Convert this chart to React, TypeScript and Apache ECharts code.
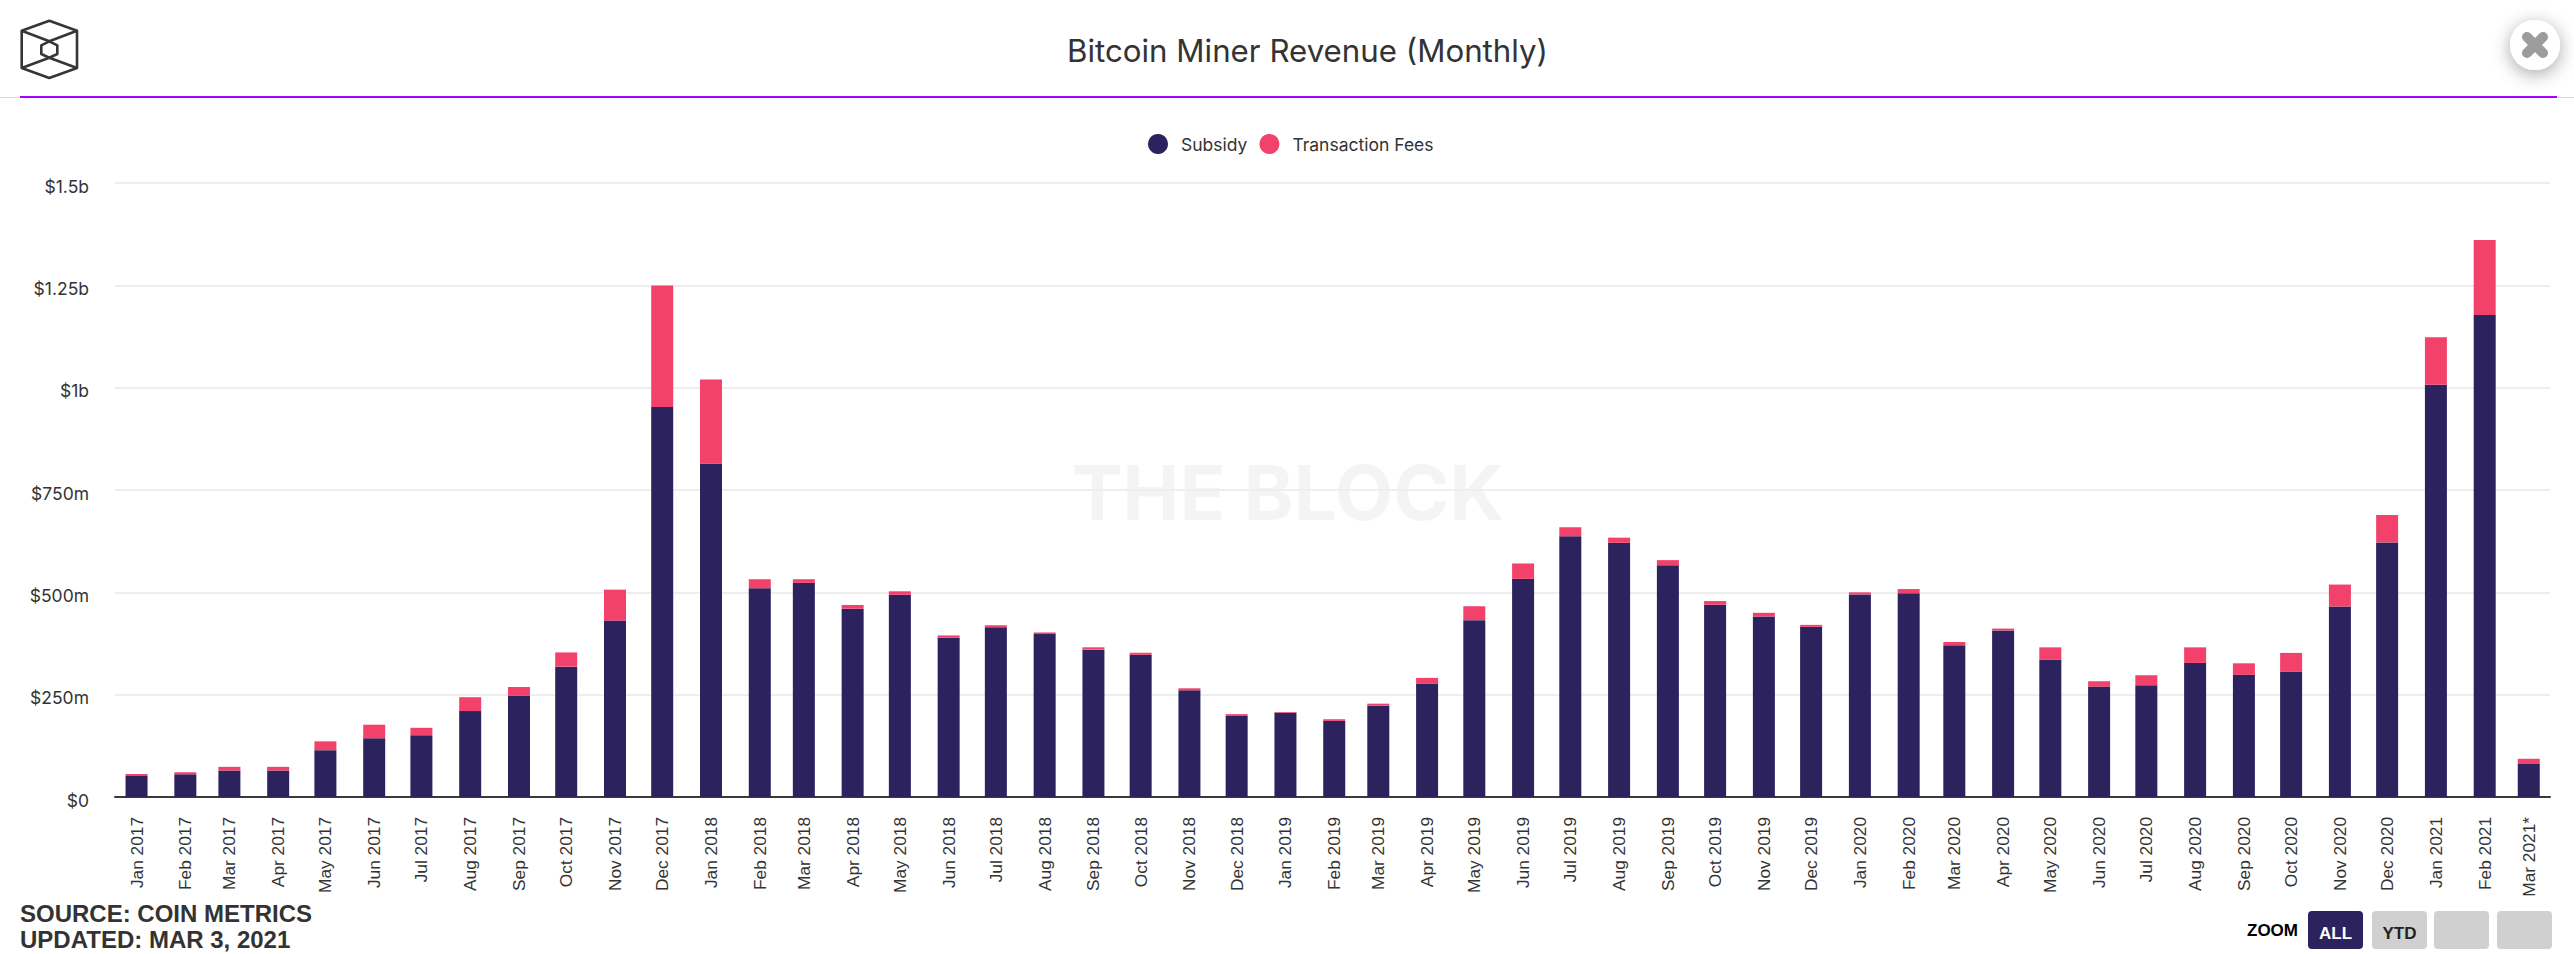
import React, { useEffect, useRef } from "react";
import * as echarts from "echarts";

const months = [
  "Jan 2017","Feb 2017","Mar 2017","Apr 2017","May 2017","Jun 2017","Jul 2017","Aug 2017","Sep 2017","Oct 2017","Nov 2017","Dec 2017",
  "Jan 2018","Feb 2018","Mar 2018","Apr 2018","May 2018","Jun 2018","Jul 2018","Aug 2018","Sep 2018","Oct 2018","Nov 2018","Dec 2018",
  "Jan 2019","Feb 2019","Mar 2019","Apr 2019","May 2019","Jun 2019","Jul 2019","Aug 2019","Sep 2019","Oct 2019","Nov 2019","Dec 2019",
  "Jan 2020","Feb 2020","Mar 2020","Apr 2020","May 2020","Jun 2020","Jul 2020","Aug 2020","Sep 2020","Oct 2020","Nov 2020","Dec 2020",
  "Jan 2021","Feb 2021","Mar 2021*",
];
const subsidy = [
  51,55.5,64.7,64.7,114.4,143.4,151,209.8,248,318.4,431,952.7,
  815,510,523,460,494,389,414.6,398,360,347.4,260.6,198,
  205.7,186,223,277,432,533,637,621,566,469.7,441,415.6,
  495,498,370.5,407,336,269.7,273,327.5,298.4,305.7,465.4,622,
  1007,1177.5,80.7,
];
const fees = [
  5,5,9,9,21.6,33.2,18,34,20.7,34.8,75.6,296.9,
  205,22,9,9,8.5,5.7,5,4,5.7,5,5,4.5,
  1.7,4,5,14,34,37.5,22,12.6,12.7,9,9,4.9,
  5,10,8.2,4.5,29.6,13.1,24.5,38.1,28.2,46.3,53.6,67,
  116,183.1,12.7,
];
const yTickLabels: Record<number, string> = { 0: "$0", 250: "$250m", 500: "$500m", 750: "$750m", 1000: "$1b", 1250: "$1.25b", 1500: "$1.5b" };

const MON = ["Jan","Feb","Mar","Apr","May","Jun","Jul","Aug","Sep","Oct","Nov","Dec"];
const stamp = (m: string) => Date.UTC(parseInt(m.slice(4, 8), 10), MON.indexOf(m.slice(0, 3)), 1);
const stamps = months.map(stamp);
const DAY = 86400000;
const labelByStamp = new Map(stamps.map((t, i) => [t, months[i]]));

const NAVY = "#2b225e";
const PINK = "#f2426b";
const UI = "Inter, 'Noto Sans', sans-serif";
const ARIAL = "'Liberation Sans', Arial, sans-serif";

const line = (x1: number, y1: number, x2: number, y2: number, stroke: string, lineWidth: number, lineCap = "butt", z = 10) => ({
  type: "line", shape: { x1, y1, x2, y2 }, style: { stroke, lineWidth, lineCap }, z, silent: true,
});
const logoStroke = { stroke: "#363636", lineWidth: 2.6, fill: "none", lineJoin: "round" };
const poly = (points: number[][], closed = false) => ({
  type: closed ? "polygon" : "polyline", shape: { points }, style: logoStroke, z: 10, silent: true,
});
const btn = (x: number, w: number, fill: string) => ({
  type: "rect", shape: { x, y: 911, width: w, height: 38, r: 4 }, style: { fill }, z: 10, silent: true,
});
const txt = (x: number, y: number, text: string, font: string, fill: string, align = "left", z = 10) => ({
  type: "text", x, y, z, silent: true, style: { text, font, fill, align, verticalAlign: "middle" },
});

export default function App() {
  const ref = useRef<HTMLDivElement>(null);
  useEffect(() => {
    document.body.style.margin = "0";
    document.body.style.overflow = "hidden";
    const chart = echarts.init(ref.current!, null, { renderer: "svg" });
    chart.setOption({
      animation: false,
      useUTC: true,
      backgroundColor: "#ffffff",
      title: {
        text: "Bitcoin Miner Revenue (Monthly)",
        left: 1067,
        top: 35,
        padding: 0,
        textStyle: { fontFamily: UI, fontSize: 31.25, fontWeight: 400, color: "#333333" },
      },
      legend: {
        left: 1148,
        top: 134,
        padding: 0,
        itemWidth: 20,
        itemHeight: 20,
        itemGap: 12,
        icon: "circle",
        selectedMode: false,
        data: ["Subsidy", "Transaction Fees"],
        textStyle: { fontFamily: UI, fontSize: 17.5, color: "#333333", padding: [4, 0, 0, 8] },
      },
      grid: { left: 115, right: 24, top: 183, bottom: 157 },
      xAxis: {
        type: "time",
        min: stamps[0] - 6.7 * DAY,
        max: stamps[stamps.length - 1] + 6.5 * DAY,
        minInterval: 28 * DAY,
        maxInterval: 31 * DAY,
        splitNumber: 51,
        axisLine: { show: true, lineStyle: { color: "#3a3a3a", width: 2 } },
        axisTick: { show: false },
        splitLine: { show: false },
        axisLabel: {
          rotate: 90,
          margin: 20,
          hideOverlap: false,
          fontFamily: ARIAL,
          fontSize: 17.3,
          fontWeight: 400,
          color: "#333333",
          formatter: (v: number) => labelByStamp.get(v) ?? "",
        },
      },
      yAxis: {
        type: "value",
        min: 0,
        max: 1500,
        interval: 250,
        axisLine: { show: false },
        axisTick: { show: false },
        splitLine: { show: true, lineStyle: { color: "#eeeeee", width: 2 } },
        axisLabel: {
          margin: 26,
          fontFamily: UI,
          fontSize: 17.5,
          color: "#333333",
          verticalAlign: "top",
          lineHeight: 6,
          formatter: (v: number) => yTickLabels[v] ?? "",
        },
      },
      series: [
        { name: "Subsidy", type: "bar", stack: "rev", barWidth: 22, itemStyle: { color: NAVY },
          data: stamps.map((t, i) => [t, subsidy[i]]) },
        { name: "Transaction Fees", type: "bar", stack: "rev", barWidth: 22, itemStyle: { color: PINK },
          data: stamps.map((t, i) => [t, fees[i]]) },
      ],
      graphic: [
        // watermark
        { type: "text", x: 1288, y: 492, z: 0, silent: true,
          style: { text: "THE BLOCK", font: `700 76px ${UI}`, fill: "rgba(0,0,0,0.045)", align: "center", verticalAlign: "middle" } },
        // header rule
        line(0, 97.5, 2574, 97.5, "#e4cdf5", 1),
        line(20, 97, 2557, 97, "#aa00ff", 2),
        // logo
        poly([[49.3,20.7],[77,30.7],[77,68],[49.3,78],[21.7,68],[21.7,30.7]], true),
        poly([[49.3,41.3],[57.3,45.3],[57.3,54],[49.3,57.7],[41.3,54],[41.3,45.3]], true),
        poly([[21.7,30.7],[49.3,41.3],[77,30.7]]),
        poly([[21.7,68],[49.3,57.7],[77,68]]),
        // close button
        { type: "circle", shape: { cx: 2535, cy: 45, r: 25 }, z: 10, silent: true,
          style: { fill: "#ffffff", shadowBlur: 18, shadowColor: "rgba(0,0,0,0.35)", shadowOffsetY: 4 } },
        line(2527, 37, 2543, 53, "#9c9c9c", 10, "round", 11),
        line(2543, 37, 2527, 53, "#9c9c9c", 10, "round", 11),
        // source
        txt(20, 913, "SOURCE: COIN METRICS", `700 24px ${ARIAL}`, "#333333"),
        txt(20, 939, "UPDATED: MAR 3, 2021", `700 24px ${ARIAL}`, "#333333"),
        // zoom buttons
        txt(2247, 930, "ZOOM", `700 17px ${ARIAL}`, "#000000"),
        btn(2308, 55, NAVY),
        btn(2372, 55, "#d0d0d0"),
        btn(2434, 55, "#d0d0d0"),
        btn(2497, 55, "#d0d0d0"),
        txt(2335.5, 933, "ALL", `700 17px ${ARIAL}`, "#ffffff", "center", 11),
        txt(2399.5, 933, "YTD", `700 17px ${ARIAL}`, "#222222", "center", 11),
      ],
    });
    return () => chart.dispose();
  }, []);
  return <div ref={ref} style={{ position: "absolute", left: 0, top: 0, width: 2574, height: 954 }} />;
}
